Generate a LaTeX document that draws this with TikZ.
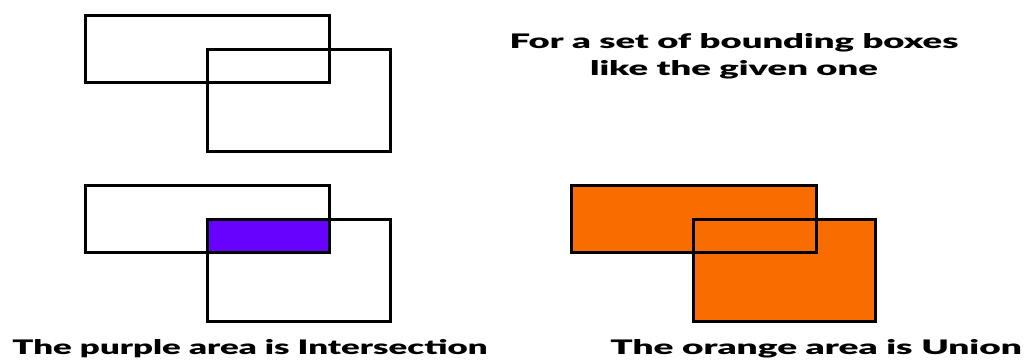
\documentclass[tikz,border=0pt]{standalone}
\usepackage{fontspec}
\setmainfont{Lato}[UprightFont=* Bold]
\definecolor{purp}{HTML}{6600FF}
\definecolor{orng}{HTML}{F86C00}
\begin{document}
\begin{tikzpicture}[x=1pt,y=-1pt,
  box/.style={draw=black,line width=3pt},
  lbl/.style={font=\fontsize{20}{27}\selectfont\bfseries,align=center,inner sep=0pt}]
\useasboundingbox (0,0) rectangle (1024,360);
% top pair
\draw[box] (85,15) rectangle (329,82);
\draw[box] (207,49) rectangle (390,151);
\node[lbl,xscale=1.82] (title) at (734,56) {For a set of bounding boxes\\like the given one};
% intersection
\fill[purp] (207,219) rectangle (329,252);
\draw[box] (85,185) rectangle (329,252);
\draw[box] (207,219) rectangle (390,321);
\node[lbl,xscale=1.74] (inter) at (250,349) {The purple area is Intersection};
% union
\fill[orng] (571,185) rectangle (816,252);
\fill[orng] (693,219) rectangle (875,321);
\draw[box] (571,185) rectangle (816,252);
\draw[box] (693,219) rectangle (875,321);
\node[lbl,xscale=1.85] (union) at (816,349) {The orange area is Union};
\end{tikzpicture}
\end{document}
